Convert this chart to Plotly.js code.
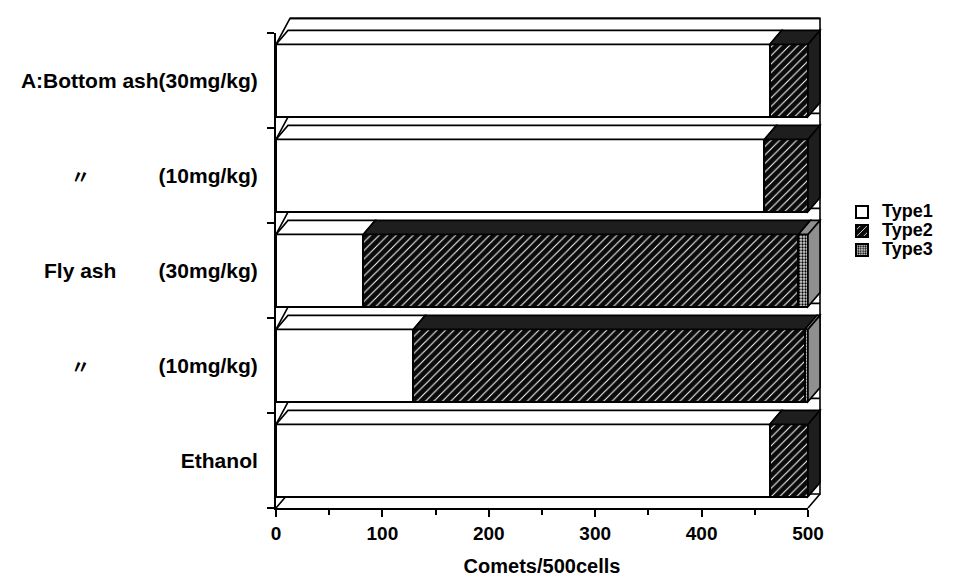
<!DOCTYPE html>
<html>
<head>
<meta charset="utf-8">
<script src="https://cdn.plot.ly/plotly-3.0.1.min.js"></script>
<style>html,body{margin:0;padding:0;background:#fff;}#chart{width:969px;height:582px;}</style>
</head>
<body>
<div id="chart"></div>
<script>
// ---- data ----
const categories = ["A:Bottom ash 30", "A:Bottom ash 10", "Fly ash 30", "Fly ash 10", "Ethanol"];
const tickLabels = ["A:Bottom ash(30mg/kg)", "(10mg/kg)", "(30mg/kg)", "(10mg/kg)", "Ethanol"];
const prefixLabels = ["", "〃", "Fly ash", "〃", ""];
const seriesNames = ["Type1", "Type2", "Type3"];
const type1 = [464, 459, 82, 129, 464];
const type2 = [36, 41, 409, 368, 36];
const type3 = [0, 0, 9, 3, 0];
const xMax = 500;

// ---- layout constants ----
const W = 969, H = 582;
const mL = 276, mR = 161, mT = 33, mB = 74;
const plotW = W - mL - mR, plotH = H - mT - mB;
const nCat = categories.length;
const barW = 0.76;
const bdx = 12 / plotW, bdy = 14 / plotH;   // bar depth (paper)
const wdx = 14 / plotW, wdy = 26 / plotH;   // wall depth (paper)
const FAM = "Liberation Sans, Arial, sans-serif";
const FONT = {family: FAM, size: 21, color: "#000", weight: "bold"};

const ypos = categories.map((_, i) => i);
const series = [type1, type2, type3];
const patterns = [
  {shape: ""},
  {shape: "/", fgcolor: "#ffffff", bgcolor: "#0a0a0a", size: 6, solidity: 0.17, fillmode: "replace"},
  {shape: ".", fgcolor: "#000000", bgcolor: "#d8d8d8", size: 3, solidity: 0.45, fillmode: "replace"}
];
const faceFill = ["#ffffff", "#1e1e1e", "#8f8f8f"];

const traces = series.map((vals, k) => ({
  type: "bar", orientation: "h",
  name: `<span style="font-size:18px">${seriesNames[k]}</span>`,
  x: vals, y: ypos, width: barW,
  marker: {color: k === 1 ? "#0a0a0a" : "#ffffff",
           pattern: patterns[k], line: {color: "#000", width: 2}},
  hoverinfo: "x"
}));

// ---- 3D decoration shapes derived from data ----
const shapes = [];
const catCenter = i => 1 - (i + 0.5) / nCat;
const half = barW / 2 / nCat;
const lineSt = {color: "#000", width: 1.6};

const topBack = catCenter(0) + half + wdy;
shapes.push({type: "path", xref: "paper", yref: "paper", layer: "below",
  path: `M 0,0 L ${bdx},${bdy} L ${1 + bdx},${bdy} L ${1 + bdx},${topBack} L ${wdx},${topBack}`,
  line: lineSt, fillcolor: "rgba(0,0,0,0)"});
shapes.push({type: "path", xref: "paper", yref: "paper", layer: "above",
  path: `M 1,0 L ${1 + bdx},${bdy}`, line: lineSt});

categories.forEach((c, i) => {
  const yTop = catCenter(i) + half, yBot = catCenter(i) - half;
  shapes.push({type: "path", xref: "paper", yref: "paper", layer: "below",
    path: `M 0,${yTop} L ${wdx},${yTop + wdy} L ${1 + bdx},${yTop + wdy}`, line: lineSt});
  let a = 0, last = 0;
  series.forEach((vals, k) => {
    const v = vals[i];
    if (v <= 0) return;
    const xa = a / xMax, xb = (a + v) / xMax;
    shapes.push({type: "path", xref: "paper", yref: "paper", layer: "above",
      path: `M ${xa},${yTop} L ${xb},${yTop} L ${xb + bdx},${yTop + bdy} L ${xa + bdx},${yTop + bdy} Z`,
      fillcolor: faceFill[k], line: lineSt});
    a += v; last = k;
  });
  const xT = a / xMax;
  shapes.push({type: "path", xref: "paper", yref: "paper", layer: "above",
    path: `M ${xT},${yTop} L ${xT + bdx},${yTop + bdy} L ${xT + bdx},${yBot + bdy} L ${xT},${yBot} Z`,
    fillcolor: faceFill[last], line: lineSt});
});

const annotations = prefixLabels.map((t, i) => ({
  text: t, xref: "paper", yref: "paper", x: (80 - mL) / plotW, y: catCenter(i),
  xanchor: "center", yanchor: "middle", showarrow: false,
  font: t === "〃" ? Object.assign({}, FONT, {family: "Noto Sans CJK JP, sans-serif", size: 19}) : FONT
})).filter(a => a.text !== "");

const layout = {
  width: W, height: H,
  margin: {l: mL, r: mR, t: mT, b: mB, pad: 0},
  paper_bgcolor: "#fff", plot_bgcolor: "rgba(0,0,0,0)",
  barmode: "stack", bargap: 0,
  showlegend: true,
  legend: {x: (842 - mL) / plotW, y: (H - mB - 231) / plotH, xanchor: "left", yanchor: "middle",
           traceorder: "normal", font: {family: FAM, size: 12, color: "#000", weight: "bold"},
           bgcolor: "rgba(0,0,0,0)"},
  xaxis: {range: [0, xMax], showline: true, linecolor: "#000", linewidth: 2,
          ticks: "outside", ticklen: 7, tickwidth: 2, tickcolor: "#000", dtick: 100, tick0: 0,
          minor: {ticks: "outside", ticklen: 5, tickwidth: 2, tickcolor: "#000", dtick: 50},
          showgrid: false, zeroline: false, tickfont: Object.assign({}, FONT, {size: 19}),
          title: {text: "Comets/500cells", font: Object.assign({}, FONT, {size: 20}), standoff: 16}},
  yaxis: {range: [nCat - 0.5, -0.5], tickmode: "array", tickvals: ypos, ticktext: tickLabels,
          showline: true, linecolor: "#000", linewidth: 2, ticks: "", ticklabelstandoff: 12,
          minor: {ticks: "outside", ticklen: 7, tickwidth: 2, tickcolor: "#000", tick0: -0.5, dtick: 1},
          showgrid: false, zeroline: false, tickfont: FONT},
  shapes: shapes,
  annotations: annotations
};

Plotly.newPlot("chart", traces, layout, {displayModeBar: false, staticPlot: true});
</script>
</body>
</html>
